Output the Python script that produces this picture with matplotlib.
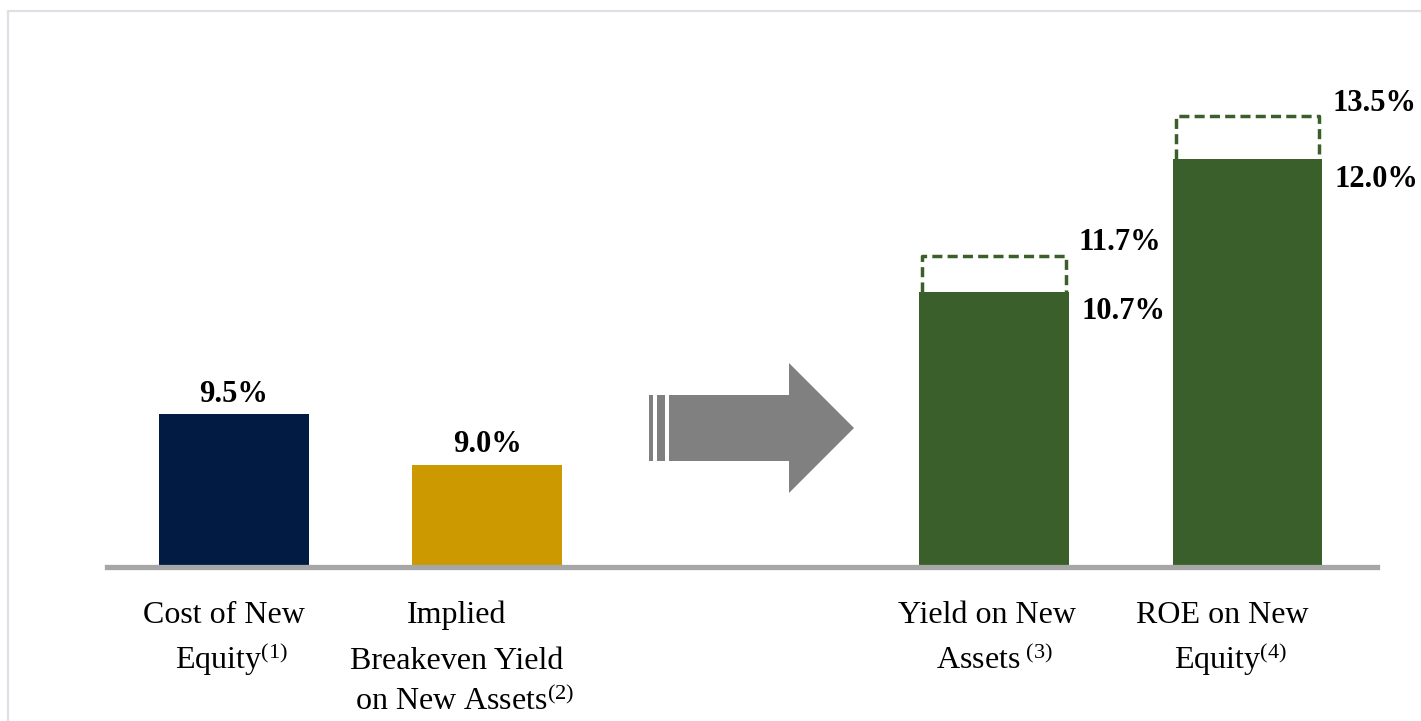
import matplotlib
matplotlib.use('Agg')
import matplotlib.pyplot as plt
from matplotlib.patches import Polygon
from matplotlib.lines import Line2D

plt.rcParams['font.family'] = ['Liberation Serif', 'DejaVu Serif']
plt.rcParams['mathtext.fontset'] = 'custom'
plt.rcParams['mathtext.rm'] = 'Liberation Serif'
plt.rcParams['mathtext.it'] = 'Liberation Serif'

# data
categories = ['Cost of New\n  Equity$^{(1)}$',
              'Implied\nBreakeven Yield\n  on New Assets$^{(2)}$',
              'Yield on New\n  Assets$^{\\ (3)}$',
              'ROE on New\n  Equity$^{(4)}$']
positions = [0, 1, 3, 4]
values = [9.5, 9.0, 10.7, 12.0]
value_labels = ['9.5%', '9.0%', '10.7%', '12.0%']
label_x = [-0.04, 0.88, 2.97, 3.9]
bar_colors = ['#011b43', '#cc9900', '#3a5f2a', '#3a5f2a']

# upside (dashed boxes) on the two right bars
upside_pos = [3, 4]
upside_base = [10.7, 12.0]
upside_top = [11.05, 12.42]   # drawn height as shown in the picture
upside_labels = ['11.7%', '13.5%']

W, H = 1421, 721
PX = 102  # pixels per percentage point
fig = plt.figure(figsize=(W / 100, H / 100), dpi=100)
ax = fig.add_axes([107 / W, (721 - 567) / H, 1270 / W, 507 / H])
ax.set_xlim(-0.5, 4.51)
ax.set_ylim(8, 8 + 507 / PX)
ax.axis('off')

green = '#3a5f2a'
ax.bar(positions, values, width=0.59, color=bar_colors, zorder=2)
ax.axhline(8, color='#a6a6a6', lw=3.8, zorder=3, clip_on=False)

# value labels
for p, v, lab in zip(positions[:2], values[:2], value_labels[:2]):
    ax.annotate(lab, (p, v), xytext=(0, 9), textcoords='offset points',
                ha='center', va='baseline', fontsize=22, fontweight='bold')
for p, v, lab in zip(positions[2:], values[2:], value_labels[2:]):
    ax.annotate(lab, (p + 0.295, v), xytext=(9, -20), textcoords='offset points',
                ha='left', va='baseline', fontsize=22, fontweight='bold',
                annotation_clip=False)

# dashed upside boxes
hw = 0.283
for p, b, t, lab in zip(upside_pos, upside_base, upside_top, upside_labels):
    ax.plot([p - hw, p - hw, p + hw, p + hw], [b, t, t, b], color=green,
            lw=2.5, dashes=(2.9, 1.5), zorder=2, clip_on=False)
    ax.annotate(lab, (p + 0.295, t), xytext=(7, 4), textcoords='offset points',
                ha='left', va='baseline', fontsize=22, fontweight='bold',
                annotation_clip=False)

# category labels, one text per line
baselines_px = [623, 669, 710]
for x, c in zip(label_x, categories):
    for line, by in zip(c.split('\n'), baselines_px):
        ax.text(x, 8 - (by - 567) / PX, line, ha='center', va='baseline',
                fontsize=23, clip_on=False)

# grey block arrow between the groups
def to_ax(px, py):
    return ((px - 107) / 1270, (567 - py) / 507)

arrow_pts = [(669, 395), (789, 395), (789, 363), (854, 428),
             (789, 493), (789, 461), (669, 461)]
ax.add_patch(Polygon([to_ax(*p) for p in arrow_pts], closed=True,
                     transform=ax.transAxes, color='#808080', lw=0))
for x0, x1 in [(649, 653), (657, 665)]:
    pts = [(x0, 395), (x1, 395), (x1, 461), (x0, 461)]
    ax.add_patch(Polygon([to_ax(*p) for p in pts], closed=True,
                         transform=ax.transAxes, color='#808080', lw=0))

# light frame on the left and top
fx, fy = 7.5 / W, 1 - 10.5 / H
fig.add_artist(Line2D([fx, fx, 1], [0, fy, fy], color='#e3dde6', lw=1.6,
                      transform=fig.transFigure))

fig.savefig('out.png', dpi=100)
